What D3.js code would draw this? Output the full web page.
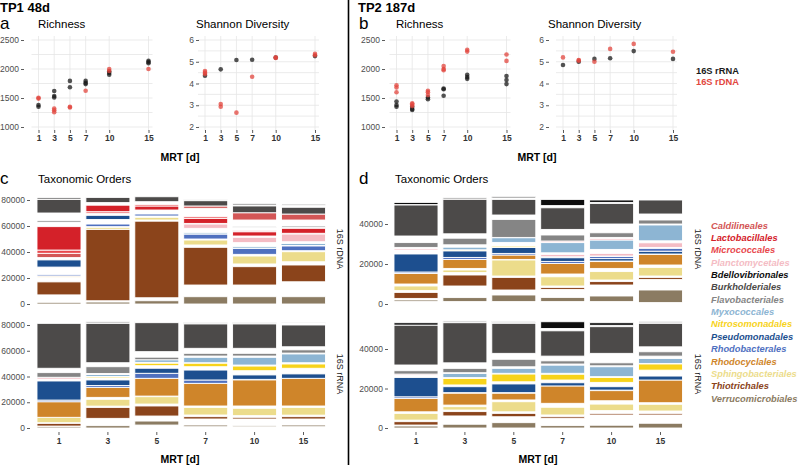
<!DOCTYPE html>
<html><head><meta charset="utf-8">
<script src="https://cdn.jsdelivr.net/npm/d3@7"></script>
<style>body{margin:0;background:#fff} svg{display:block;font-family:"Liberation Sans",Arial,sans-serif}</style>
</head><body><svg id="chart" width="798" height="465"></svg>
<script>
// ---------------- DATA ----------------
const mrt = [1, 3, 5, 7, 10, 15];
const mrtLabels = ["1", "3", "5", "7", "10", "15"];
const richTicks = [1000, 1500, 2000, 2500];
const shanTicks = [2, 3, 4, 5, 6];
const tp1Ticks = [0, 20000, 40000, 60000, 80000];
const tp2Ticks = [0, 20000, 40000];

const orders = ["Caldilineales","Lactobacillales","Micrococcales","Planctomycetales","Bdellovibrionales","Burkholderiales","Flavobacteriales","Myxococcales","Nitrosomonadales","Pseudomonadales","Rhodobacterales","Rhodocyclales","Sphingobacteriales","Thiotrichales","Verrucomicrobiales"];
const orderCodes = ["Ca","La","Mi","Pl","Bd","Bu","Fl","My","Ni","Ps","Rb","Rc","Sp","Th","Ve"];
const orderColors = ["#d35656","#d42129","#e8484d","#f4bcc4","#0d0d0d","#4c4a49","#858585","#8db5d3","#f7d31b","#1d4f8f","#4f70bf","#cf852a","#ecdc8b","#8b441b","#8b7b62"];

// Richness / Shannon: [MRT, value]
const rich1_rRNA = [[1,1380],[1,1350],[3,1620],[3,1535],[3,1510],[5,1795],[5,1685],[7,1795],[7,1760],[7,1740],[10,1955],[10,1930],[10,1900],[15,2140],[15,2120],[15,2100]];
const rich1_rDNA = [[1,1505],[1,1490],[3,1320],[3,1290],[3,1255],[5,1350],[5,1335],[7,1625],[10,2000],[10,1965],[15,2000]];
const shan1_rRNA = [[1,4.36],[3,4.65],[5,5.08],[7,5.09],[10,5.19],[15,5.26]];
const shan1_rDNA = [[1,4.57],[1,4.5],[1,4.44],[3,3.06],[3,2.93],[5,2.66],[7,4.31],[10,5.2],[10,5.17],[15,5.36],[15,5.3]];
const rich2_rRNA = [[1,1440],[1,1380],[1,1350],[3,1350],[3,1310],[3,1295],[5,1510],[5,1480],[7,1665],[7,1650],[7,1540],[10,1900],[10,1860],[10,1830],[15,1880],[15,1810],[15,1740]];
const rich2_rDNA = [[1,1720],[1,1680],[1,1600],[3,1410],[3,1390],[3,1360],[5,1625],[5,1600],[5,1550],[7,2050],[7,2000],[7,1980],[10,2330],[10,2300],[15,2250],[15,2140]];
const shan2_rRNA = [[1,4.85],[3,5.0],[5,5.13],[7,5.16],[10,5.49],[15,5.13]];
const shan2_rDNA = [[1,5.2],[3,5.08],[3,5.05],[5,5.0],[7,5.59],[10,5.82],[15,5.46]];

// Stacked bars: per MRT, segments bottom->top [order code, reads]; "-" = other orders (white)
const tp1_rDNA = [
 [["Ve",1300],["-",5700],["Th",10000],["-",3000],["Sp",800],["Rc",800],["Rb",1000],["-",5800],["Ps",5500],["-",1800],["Ca",3300],["Mi",2500],["La",18000],["-",3500],["Fl",1300],["-",5700],["Bu",10500],["Fl",1500]],
 [["Ve",1500],["-",1000],["Th",55000],["Sp",1500],["-",500],["Rb",2000],["-",3500],["Ps",3200],["-",1600],["Mi",1200],["La",5000],["-",2000],["Bu",4000]],
 [["Ve",2500],["-",2300],["Th",58900],["-",900],["Sp",2100],["-",1000],["Rb",1500],["-",3100],["La",3100],["Mi",1200],["-",2100],["Bu",3800]],
 [["Ve",5600],["-",9000],["Th",29000],["-",1800],["Sp",3800],["-",800],["Rb",3800],["My",1000],["-",3400],["Pl",3300],["-",500],["La",3900],["Mi",1200],["-",6500],["Ca",1800],["Bu",4100],["Fl",800]],
 [["Ve",5600],["-",9000],["Th",14100],["-",2100],["Sp",6100],["-",1300],["Rb",4600],["My",1200],["-",3200],["Pl",4100],["-",1000],["La",3300],["Mi",800],["-",2600],["Fl",800],["-",4800],["Ca",5600],["Bu",5200],["-",700],["Fl",1300]],
 [["Ve",5600],["-",11500],["Th",12900],["-",2500],["Sp",7700],["-",800],["Rb",3600],["-",400],["My",1500],["-",1400],["Pl",5900],["-",600],["La",3800],["-",800],["Fl",1000],["-",4600],["Ca",4600],["Bu",5200],["-",1700],["Bd",800]]
];
const tp1_rRNA = [
 [["Ve",1000],["-",500],["Th",2100],["-",500],["Sp",4200],["Rc",12100],["Rb",1300],["Ps",14800],["-",1500],["Pl",1400],["Fl",3600],["-",3400],["Bu",34900],["Bd",700]],
 [["Ve",1800],["-",5700],["Th",8500],["-",1000],["Sp",5300],["-",1500],["Rc",7800],["Rb",1400],["Ps",4300],["-",1700],["Ni",1000],["My",1500],["Pl",800],["Fl",5300],["-",3100],["Bu",30600],["-",200],["Fl",1000]],
 [["-",2300],["Ve",3100],["-",3900],["Th",7800],["-",1500],["Sp",5700],["-",500],["Rc",13800],["Rb",3900],["Ps",3900],["-",2000],["Ni",1900],["-",700],["My",2000],["Fl",2000],["-",4300],["Bu",22500],["-",300],["Fl",700]],
 [["-",1000],["Ve",1300],["-",4700],["Th",1800],["-",1300],["Sp",5900],["-",1100],["Rc",17600],["Rb",2600],["Ps",7700],["-",2600],["Ni",2700],["-",400],["My",4200],["-",1000],["Fl",2100],["-",3900],["Bu",18900],["-",400],["Bd",700]],
 [["-",1000],["Ve",1000],["-",5000],["Th",1300],["-",1300],["Sp",5700],["-",1800],["Rc",20200],["-",500],["Ps",3400],["-",3300],["Ni",3600],["-",800],["My",6000],["-",1000],["Fl",2100],["-",3900],["Bu",18900],["-",400],["Bd",700]],
 [["-",1000],["Ve",1300],["-",4700],["Th",1800],["-",1200],["Sp",6000],["-",1100],["Rc",21500],["Ps",3400],["-",4400],["Ni",3300],["-",1000],["My",6800],["-",700],["Fl",2500],["-",2400],["Bu",16900],["-",1000],["Fl",700]]
];
const tp2_rDNA = [
 [["-",1200],["Ve",800],["-",800],["Th",3000],["-",900],["Sp",2300],["-",1000],["Rc",5300],["Rb",700],["Ps",9000],["-",2000],["Pl",700],["-",600],["Fl",2400],["-",3300],["Bu",15500],["-",200],["Bd",1100]],
 [["-",1200],["Ve",2000],["-",5800],["Th",5500],["-",1200],["Sp",1300],["-",800],["Rc",4500],["Rb",1000],["Ps",3300],["Ni",500],["My",1300],["-",1200],["Fl",3300],["-",2200],["Bu",17300],["Fl",700]],
 [["-",1200],["Ve",3300],["-",2500],["Th",6300],["-",700],["Sp",8000],["-",300],["Rc",2200],["Rb",800],["Ps",3000],["Ni",600],["-",1900],["My",2300],["-",200],["Fl",9000],["-",2200],["Bu",7800],["-",700],["Bd",600]],
 [["-",1200],["Ve",2100],["-",4000],["Th",1000],["-",700],["Sp",4600],["-",1400],["Rc",5300],["Rb",1000],["Ps",1800],["-",500],["Pl",1200],["-",800],["My",5100],["Pl",800],["Fl",3000],["-",2800],["Bu",10800],["-",1100],["Bd",3100]],
 [["-",1200],["Ve",2800],["-",5500],["Th",1700],["-",800],["Sp",4200],["-",1600],["Rc",3400],["-",300],["Ps",1200],["Rb",1000],["-",300],["Pl",1300],["-",2000],["My",4700],["Pl",800],["-",500],["Fl",2300],["-",4400],["Bu",10300],["-",500],["Bd",1200]],
 [["-",700],["Ve",6300],["-",5300],["Th",1000],["-",700],["Sp",4300],["-",1200],["Rc",5300],["-",200],["Ps",1400],["Rb",1400],["-",500],["Pl",2300],["-",1000],["My",7900],["-",500],["Fl",2000],["-",3000],["Bu",7000]]
];
const tp2_rRNA = [
 [["Ve",1000],["-",500],["Th",1700],["-",800],["Sp",3400],["-",800],["Rc",6800],["Rb",800],["Ps",9800],["-",1000],["Pl",700],["Fl",1700],["-",2900],["Bu",20200],["Bd",1200]],
 [["Ve",1900],["-",4200],["Th",2200],["-",800],["Sp",1700],["-",800],["Rc",6000],["-",300],["Ps",3000],["-",900],["Ni",3300],["-",400],["My",2200],["Pl",300],["Fl",2200],["-",2800],["Bu",20300],["-",300],["Fl",600]],
 [["Ve",2700],["-",3000],["Th",1700],["-",800],["Sp",5100],["-",900],["Rc",3400],["-",300],["Ps",4400],["-",1100],["Ni",3900],["-",400],["My",2500],["-",800],["Fl",3800],["-",3000],["Bu",15200],["-",500],["Bd",500]],
 [["Ve",1200],["-",3700],["Th",800],["-",900],["Sp",3900],["-",2000],["Rc",8800],["Ps",1600],["-",1400],["Ni",2900],["-",500],["My",4200],["Pl",500],["Fl",1600],["-",2400],["Bu",12800],["-",1200],["Bd",3400]],
 [["Ve",1400],["-",5200],["Th",800],["-",1400],["Sp",3300],["-",1700],["Rc",5100],["-",300],["Ps",1700],["-",2200],["Ni",2500],["-",400],["My",5000],["-",500],["Fl",1500],["-",4800],["Bu",13500],["-",700],["Bd",1300]],
 [["Ve",2400],["-",4200],["Th",800],["-",1200],["Sp",3400],["-",800],["Rc",11500],["Ps",2000],["-",3000],["Ni",3100],["-",300],["My",2500],["-",1200],["Fl",2200],["-",2500],["Bu",11900],["-",300],["Fl",700]]
];

// ---------------- DRAW ----------------
const svg = d3.select("#chart");
const colorOf = d3.scaleOrdinal().domain(orderCodes).range(orderColors);
const rnaColor = "#1a1a1a", dnaColor = "#e2463d";

function txt(x, y, s, o = {}) {
  const t = svg.append("text").attr("x", x).attr("y", y).text(s)
    .attr("font-size", o.size || 12).attr("fill", o.fill || "#000")
    .attr("font-weight", o.weight || "normal").attr("font-style", o.style || "normal")
    .attr("text-anchor", o.anchor || "start");
  if (o.rotate) t.attr("transform", `rotate(${o.rotate},${x},${y})`);
  return t;
}

function styleAxis(g, bold) {
  g.select(".domain").remove();
  g.selectAll(".tick line").attr("stroke", "#333").attr("stroke-width", 0.8);
  g.selectAll(".tick text").attr("fill", bold ? "#333" : "#4d4d4d")
    .attr("font-size", 8.5).attr("font-weight", bold ? "bold" : "normal")
    .attr("font-family", '"Liberation Sans",Arial,sans-serif');
}

function scatter(p) {
  const x = d3.scaleLinear().domain([1, 15]).range(p.xr);
  const y = d3.scaleLinear().domain(p.yDom).range([127, 40]);
  const g = svg.append("g");
  const gx0 = p.xr[0] - 7, gx1 = p.xr[1] + 4;
  const step = (p.yTicks[1] - p.yTicks[0]) / 2;
  const hlines = d3.range(p.yDom[0], p.yDom[1] + step / 2, step);
  g.selectAll(null).data(hlines).join("line")
    .attr("x1", gx0).attr("x2", gx1).attr("y1", d => y(d)).attr("y2", d => y(d))
    .attr("stroke", "#e6e6e6").attr("stroke-width", 0.8);
  g.selectAll(null).data(mrt).join("line")
    .attr("x1", d => x(d)).attr("x2", d => x(d)).attr("y1", 36).attr("y2", 131)
    .attr("stroke", "#e6e6e6").attr("stroke-width", 0.8);
  const ya = g.append("g").attr("transform", `translate(${p.axisX},0)`)
    .call(d3.axisLeft(y).tickValues(p.yTicks).tickSize(3).tickPadding(2).tickFormat(d3.format("d")));
  styleAxis(ya, false);
  const xa = g.append("g").attr("transform", "translate(0,130)")
    .call(d3.axisBottom(x).tickValues(mrt).tickSize(3).tickPadding(2).tickFormat(d3.format("d")));
  styleAxis(xa, true);
  g.selectAll(null).data(p.rna).join("circle")
    .attr("cx", d => x(d[0])).attr("cy", d => y(d[1])).attr("r", 2.3)
    .attr("fill", rnaColor).attr("fill-opacity", 0.75);
  g.selectAll(null).data(p.dna).join("circle")
    .attr("cx", d => x(d[0])).attr("cy", d => y(d[1])).attr("r", 2.3)
    .attr("fill", dnaColor).attr("fill-opacity", 0.75);
}

scatter({xr: [38.5, 148.5], yDom: [1000, 2500], yTicks: richTicks, axisX: 24, rna: rich1_rRNA, dna: rich1_rDNA});
scatter({xr: [205, 315], yDom: [2, 6], yTicks: shanTicks, axisX: 199, rna: shan1_rRNA, dna: shan1_rDNA});
scatter({xr: [396.5, 506.5], yDom: [1000, 2500], yTicks: richTicks, axisX: 385, rna: rich2_rRNA, dna: rich2_rDNA});
scatter({xr: [563, 673], yDom: [2, 6], yTicks: shanTicks, axisX: 549, rna: shan2_rRNA, dna: shan2_rDNA});

function barPanel(data, xr, y, ticks, axisX, showX) {
  const x = d3.scaleBand().domain(mrtLabels).range(xr).paddingInner(0.1).paddingOuter(0.1);
  const g = svg.append("g");
  data.forEach((segs, i) => {
    let acc = 0;
    const rows = segs.map(([k, v]) => { const r = {k, y0: acc, y1: acc + v}; acc += v; return r; });
    g.selectAll(null).data(rows.filter(r => r.k !== "-")).join("rect")
      .attr("x", x(mrtLabels[i])).attr("width", x.bandwidth())
      .attr("y", d => y(d.y1)).attr("height", d => Math.max(0, y(d.y0) - y(d.y1)))
      .attr("fill", d => colorOf(d.k)).attr("stroke", "#fff").attr("stroke-width", 0.9);
  });
  const ya = g.append("g").attr("transform", `translate(${axisX},0)`)
    .call(d3.axisLeft(y).tickValues(ticks).tickSize(3).tickPadding(2).tickFormat(d3.format("d")));
  styleAxis(ya, false);
  if (showX) {
    const xa = g.append("g").attr("transform", "translate(0,432)")
      .call(d3.axisBottom(x).tickSize(3).tickPadding(3));
    styleAxis(xa, true);
  }
}

const yC1 = d3.scaleLinear().domain([0, 80000]).range([304, 200]);
const yC2 = d3.scaleLinear().domain([0, 80000]).range([428, 325]);
const yD1 = d3.scaleLinear().domain([0, 40000]).range([304, 224]);
const yD2 = d3.scaleLinear().domain([0, 40000]).range([428, 349]);
barPanel(tp1_rDNA, [32.1, 330.4], yC1, tp1Ticks, 30, false);
barPanel(tp1_rRNA, [32.1, 330.4], yC2, tp1Ticks, 30, true);
barPanel(tp2_rDNA, [389.1, 687.4], yD1, tp2Ticks, 388, false);
barPanel(tp2_rRNA, [389.1, 687.4], yD2, tp2Ticks, 388, true);

// divider
svg.append("line").attr("x1", 348.5).attr("x2", 348.5).attr("y1", 0).attr("y2", 465)
  .attr("stroke", "#000").attr("stroke-width", 1.6);

// titles & labels
txt(0, 12, "TP1 48d", {size: 13, weight: "bold"});
txt(358, 12, "TP2 187d", {size: 13, weight: "bold"});
txt(0, 29, "a", {size: 17});
txt(359, 29, "b", {size: 17});
txt(0, 184, "c", {size: 17});
txt(359, 184, "d", {size: 17});
txt(38, 28, "Richness", {size: 11.5});
txt(196, 28, "Shannon Diversity", {size: 11.5});
txt(396, 28, "Richness", {size: 11.5});
txt(548, 28, "Shannon Diversity", {size: 11.5});
txt(38, 183, "Taxonomic Orders", {size: 11.5});
txt(395, 183, "Taxonomic Orders", {size: 11.5});
txt(180, 161, "MRT [d]", {size: 10.5, weight: "bold", anchor: "middle"});
txt(537, 161, "MRT [d]", {size: 10.5, weight: "bold", anchor: "middle"});
txt(180, 463, "MRT [d]", {size: 10.5, weight: "bold", anchor: "middle"});
txt(538, 463, "MRT [d]", {size: 10.5, weight: "bold", anchor: "middle"});
txt(696, 73.5, "16S rRNA", {size: 9.3, weight: "bold", fill: rnaColor});
txt(696, 85, "16S rDNA", {size: 9.3, weight: "bold", fill: dnaColor});

// facet strip labels
[[337, 249, "16S rDNA"], [337, 374, "16S rRNA"], [694.5, 249, "16S rDNA"], [694.5, 374, "16S rRNA"]]
  .forEach(([x, y, s]) => txt(x, y, s, {size: 9, anchor: "middle", rotate: 90, fill: "#1a1a1a"}));

// order legend
svg.append("g").selectAll("text").data(orders).join("text")
  .attr("x", 711).attr("y", (d, i) => 228.5 + i * 12.37)
  .attr("font-size", 9.3).attr("font-weight", "bold").attr("font-style", "italic")
  .attr("fill", (d, i) => orderColors[i]).text(d => d);
</script></body></html>
